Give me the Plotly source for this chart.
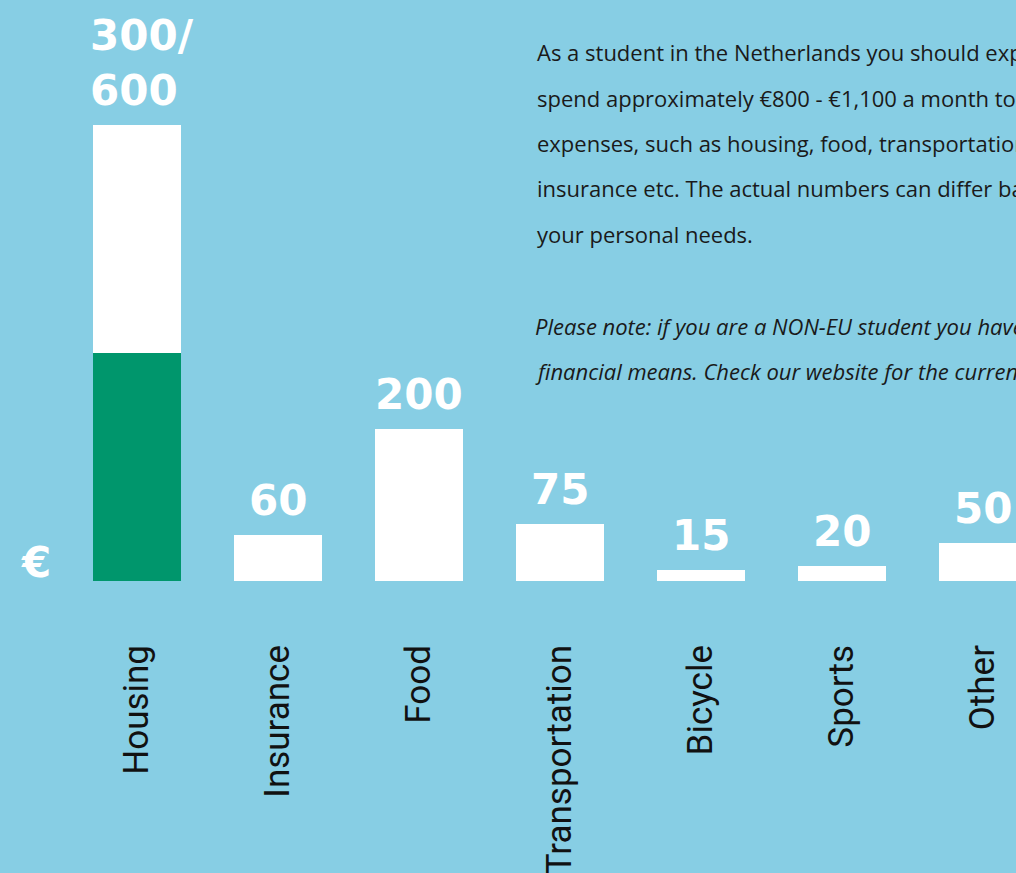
import plotly.graph_objects as go

categories = ["Housing", "Insurance", "Food", "Transportation", "Bicycle", "Sports", "Other"]
green_values = [300, 0, 0, 0, 0, 0, 0]
white_values = [300, 60, 200, 75, 15, 20, 50]
value_labels = ["300/<br>600", "60", "200", "75", "15", "20", "50"]

paragraph_lines = [
    "As a student in the Netherlands you should expect to",
    "spend approximately €800 - €1,100 a month to cover your",
    "expenses, such as housing, food, transportation,",
    "insurance etc. The actual numbers can differ based on",
    "your personal needs.",
]
note_lines = [
    "Please note: if you are a NON-EU student you have to prove sufficient",
    "financial means. Check our website for the current amount.",
]

BG = "#87CEE4"
GREEN = "#00966C"
W, H = 1016, 873
PLOT_BOTTOM = 581

fig = go.Figure()
fig.add_trace(go.Bar(x=categories, y=green_values, marker=dict(color=GREEN, line=dict(width=0)),
                     hoverinfo="skip"))
fig.add_trace(go.Bar(x=categories, y=white_values, marker=dict(color="white", line=dict(width=0)),
                     hoverinfo="skip"))

totals = [g + w for g, w in zip(green_values, white_values)]
for i, (cat, tot, lab) in enumerate(zip(categories, totals, value_labels)):
    multi = "<br>" in lab
    fig.add_annotation(
        x=cat, y=tot, xref="x", yref="y",
        text=lab, showarrow=False,
        xanchor="left" if multi else "center",
        xshift=-49 if multi else 0,
        align="left",
        yanchor="bottom", yshift=8,
        font=dict(family="DejaVu Sans", size=42, color="white", weight="bold"),
    )

fig.add_annotation(
    x=36 / W, y=0, xref="paper", yref="paper", text="€", showarrow=False,
    xanchor="center", yanchor="bottom", yshift=-8,
    font=dict(family="DejaVu Sans", size=42, color="white", weight="bold"),
)

centers = [52, 98, 143, 188, 234]
for txt, cy in zip(paragraph_lines, centers):
    fig.add_annotation(
        x=535 / W, y=1 - cy / PLOT_BOTTOM, xref="paper", yref="paper",
        text=txt, showarrow=False, xanchor="left", yanchor="middle", align="left",
        font=dict(family="Open Sans", size=22, color="#1a1a1a"),
    )
for txt, cy in zip(note_lines, [326, 371]):
    fig.add_annotation(
        x=533 / W, y=1 - cy / PLOT_BOTTOM, xref="paper", yref="paper",
        text=f"<i>{txt}</i>", showarrow=False, xanchor="left", yanchor="middle", align="left",
        font=dict(family="Open Sans", size=22, color="#1a1a1a"),
    )

fig.update_layout(
    width=W, height=H,
    barmode="stack", bargap=0.376,
    showlegend=False,
    paper_bgcolor=BG, plot_bgcolor=BG,
    margin=dict(l=0, r=0, t=0, b=H - PLOT_BOTTOM, pad=0),
    xaxis=dict(
        type="category", range=[-0.972, 6.234],
        tickangle=-90, ticklabelstandoff=56,
        tickfont=dict(family="Roboto", size=35, color="#111111"),
        showgrid=False, zeroline=False, showline=False, ticks="",
        fixedrange=True,
    ),
    yaxis=dict(range=[0, PLOT_BOTTOM / 0.76], visible=False, showgrid=False, zeroline=False,
               fixedrange=True),
)

fig.write_html(
    "out.html",
    config={"displayModeBar": False},
    post_script="document.body.style.margin='0';document.body.style.overflow='hidden';",
)
